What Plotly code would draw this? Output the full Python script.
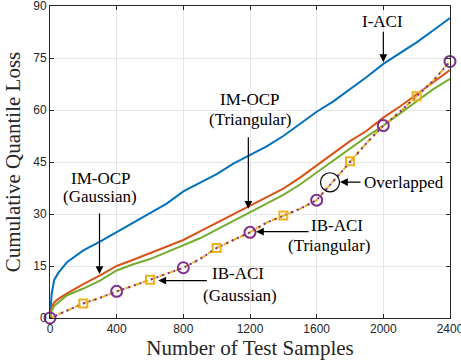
import plotly.graph_objects as go

# ---- data ----
x_ocp = [0, 10, 25, 50, 100, 200, 300, 400, 500, 600, 700, 800, 900, 1000, 1100, 1200,
         1300, 1400, 1500, 1600, 1700, 1800, 1900, 2000, 2100, 2200, 2300, 2400]
i_aci = [0, 7.0, 11.0, 13.0, 16.0, 19.5, 22.0, 24.8, 27.6, 30.3, 33.0, 36.5, 39.0, 41.5, 44.5, 47.0,
         49.5, 52.5, 56.0, 59.5, 62.5, 66.0, 69.5, 73.3, 76.5, 79.5, 83.0, 86.5]
imocp_gauss = [0, 3.0, 4.5, 5.5, 7.0, 9.8, 12.3, 15.0, 16.8, 18.7, 20.7, 22.5, 25.0, 27.5, 30.0, 32.5,
               35.0, 37.3, 40.5, 44.0, 47.5, 51.0, 54.0, 57.8, 61.0, 64.5, 68.0, 71.5]
imocp_tri = [0, 2.0, 3.5, 4.5, 6.5, 8.5, 10.8, 13.7, 15.5, 17.0, 19.0, 21.0, 23.0, 25.5, 28.0, 30.7,
             33.0, 35.5, 38.5, 42.0, 45.5, 49.0, 52.3, 55.5, 59.0, 62.5, 66.0, 69.0]

x_ib = [0, 100, 200, 300, 400, 500, 600, 700, 800, 900, 1000, 1100, 1200,
        1300, 1400, 1500, 1600, 1700, 1800, 1900, 2000, 2100, 2200, 2300, 2400]
ib_gauss = [0, 2.0, 4.2, 5.8, 7.7, 9.3, 11.0, 12.8, 14.5, 17.0, 20.2, 22.5, 24.7,
            27.5, 29.6, 31.5, 34.0, 39.5, 45.2, 50.5, 55.5, 59.5, 64.0, 68.5, 74.0]
ib_tri = [0, 2.0, 4.2, 5.8, 7.7, 9.3, 11.0, 12.8, 14.5, 17.0, 20.2, 22.5, 24.7,
          27.5, 29.6, 31.5, 34.0, 39.5, 45.2, 50.5, 55.5, 59.5, 64.0, 68.5, 74.0]

square_at = [200, 600, 1000, 1400, 1800, 2200]
circle_at = [0, 400, 800, 1200, 1600, 2000, 2400]

x_ticks = [0, 400, 800, 1200, 1600, 2000, 2400]
y_ticks = [0, 15, 30, 45, 60, 75, 90]

BLUE, ORANGE, GREEN, YELLOW, PURPLE = "#0072BD", "#D95319", "#77AC30", "#EDB120", "#7E2F8E"

fig = go.Figure()
fig.add_trace(go.Scatter(x=x_ocp, y=i_aci, mode="lines", line=dict(color=BLUE, width=2)))
fig.add_trace(go.Scatter(x=x_ocp, y=imocp_gauss, mode="lines", line=dict(color=ORANGE, width=2)))
fig.add_trace(go.Scatter(x=x_ocp, y=imocp_tri, mode="lines", line=dict(color=GREEN, width=2)))
fig.add_trace(go.Scatter(x=x_ib, y=ib_gauss, mode="lines",
                         line=dict(color=YELLOW, width=2, dash="6px,3px")))
fig.add_trace(go.Scatter(x=x_ib, y=ib_tri, mode="lines",
                         line=dict(color=PURPLE, width=2, dash="2px,4px")))
sq_y = [ib_gauss[x_ib.index(v)] for v in square_at]
ci_y = [ib_tri[x_ib.index(v)] for v in circle_at]
fig.add_trace(go.Scatter(x=square_at, y=sq_y, mode="markers", cliponaxis=False,
                         marker=dict(symbol="square-open", size=8, color=YELLOW,
                                     line=dict(width=2, color=YELLOW))))
fig.add_trace(go.Scatter(x=circle_at, y=ci_y, mode="markers", cliponaxis=False,
                         marker=dict(symbol="circle-open", size=11, color=PURPLE,
                                     line=dict(width=2, color=PURPLE))))

SERIF = "Liberation Serif"
TXT = dict(family=SERIF, size=17, color="black")


def arrow(x, y, ax, ay):
    fig.add_annotation(x=x, y=y, ax=ax, ay=ay, text="", showarrow=True,
                       arrowhead=2, arrowsize=1.3, arrowwidth=1.2, arrowcolor="black",
                       standoff=0, startstandoff=0)


def label(x, y, text, xanchor="center"):
    fig.add_annotation(x=x, y=y, text=text, showarrow=False, font=TXT,
                       xanchor=xanchor, yanchor="middle")


# I-ACI
arrow(2000, 73.8, 0, -32)
label(1995, 85.6, "I-ACI")
# IM-OCP (Triangular)
arrow(1190, 31.5, 0, -73)
label(1200, 63.0, "IM-OCP")
label(1200, 57.3, "(Triangular)")
# IM-OCP (Gaussian)
arrow(297, 12.7, 0, -62)
label(305, 40.3, "IM-OCP")
label(300, 35.0, "(Gaussian)")
# IB-ACI (Gaussian)
arrow(650, 10.8, 50, 0)
label(1130, 12.9, "IB-ACI")
label(1140, 6.6, "(Gaussian)")
# IB-ACI (Triangular)
arrow(1236, 24.9, 54, 0)
label(1722, 26.6, "IB-ACI")
label(1674, 20.9, "(Triangular)")
# Overlapped
arrow(1740, 39.2, 22, 0)
label(1870, 39.2, "Overlapped", xanchor="left")
fig.add_shape(type="circle", x0=1623, x1=1737, y0=36.4, y1=41.9,
              line=dict(color="black", width=1.2))

AX = dict(showline=True, linecolor="#262626", linewidth=1, mirror="ticks",
          ticks="inside", ticklen=4, tickcolor="#262626", automargin=False,
          ticklabeloverflow="allow",
          showgrid=True, gridcolor="#E6E6E6", gridwidth=1, zeroline=False,
          tickfont=dict(family="Liberation Sans", size=12, color="#262626"))

fig.update_xaxes(range=[0, 2400], tickvals=x_ticks, ticktext=[str(v) for v in x_ticks],
                 title=dict(text="Number of Test Samples", font=dict(family=SERIF, size=21, color="#262626"),
                            standoff=4), **AX)
fig.update_yaxes(range=[0, 90], tickvals=y_ticks, ticktext=[str(v) for v in y_ticks],
                 title=dict(text="Cumulative Quantile Loss", font=dict(family=SERIF, size=21, color="#262626"),
                            standoff=6), **AX)

fig.update_layout(width=461, height=364, margin=dict(l=50, r=11, t=6, b=46),
                  plot_bgcolor="white", paper_bgcolor="white", showlegend=False)

fig.write_html("out.html", config={"displayModeBar": False},
               post_script="document.body.style.margin='0';document.body.style.overflow='hidden';")
